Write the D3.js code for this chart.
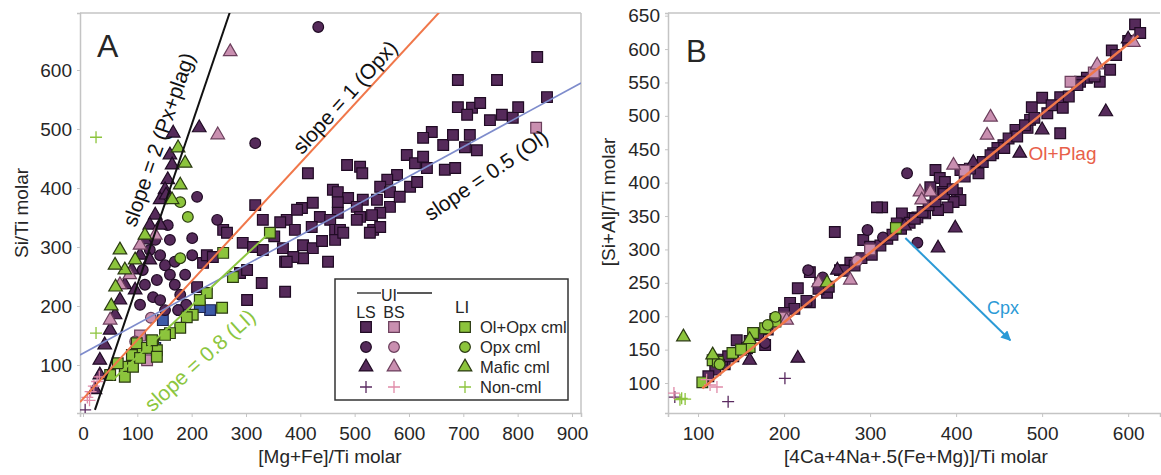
<!DOCTYPE html>
<html><head><meta charset="utf-8">
<script src="https://cdn.jsdelivr.net/npm/d3@7"></script>
<style>
body{margin:0;background:#fff}
text{font-family:"Liberation Sans",Arial,sans-serif;fill:#262626}
</style>
</head><body>
<svg id="c" width="1161" height="475"></svg>
<script>
// ---------------- Panel A data ([Mg+Fe]/Ti , Si/Ti) ----------------
const aTicksX = [0,100,200,300,400,500,600,700,800,900];
const aTicksY = [100,200,300,400,500,600];
const aLS_sq = [[836,622],[690,583],[762,583],[854,554],[690,537],[716,536],[731,544],[707,524],[749,515],[771,524],[791,519],[801,537],
[642,495],[626,485],[663,473],[681,490],[712,490],[725,464],[703,469],[666,431],[685,434],[596,456],[611,442],[626,453],[633,434],
[578,422],[560,414],[547,402],[565,393],[602,402],[615,410],[486,439],[510,436],[514,425],[414,425],[460,397],[469,393],[488,383],
[541,380],[565,368],[547,358],[583,385],[515,380],[403,366],[423,375],[436,351],[469,376],[469,358],[504,368],[510,351],[532,354],
[375,346],[390,329],[421,334],[455,346],[464,329],[473,329],[534,329],[547,334],[504,346],[405,303],[423,298],[372,275],[405,281],
[451,275],[464,312],[479,324],[528,324],[372,224],[294,307],[313,300],[331,295],[368,298],[387,283],[375,275],[289,256],[302,261],
[329,239],[302,210],[221,273],[228,286],[258,329],[239,283],[210,232],[317,371],[265,324],[331,346],[363,342],[394,363],[352,318],[440,310]];
const aLS_ci = [[433,673],[317,476],[210,385],[247,346],[201,315],[129,215],[136,244],[110,261],[123,295],[142,286],[151,269],[160,253],
[169,236],[179,219],[142,210],[114,236],[188,253],[169,275],[133,312],[160,312],[105,202],[151,193],[190,202],[175,193],[156,337],[201,286]];
const aLS_tri = [[214,502],[166,493],[160,456],[164,439],[156,414],[151,397],[142,380],[133,354],[123,337],[114,312],[105,286],[90,261],
[77,236],[68,210],[59,185],[50,159],[40,134],[31,108],[31,83],[22,58],[153,388],[142,337],[123,278],[96,227]];
const aLS_cr = [[4,24]];
const aBS_sq = [[834,502],[118,108],[105,150]];
const aBS_ci = [[125,180],[96,140]];
const aBS_tri = [[248,490],[271,631],[105,303],[86,253],[68,236],[133,320],[50,176]];
const aBS_cr = [[8,45],[14,55],[20,64],[26,72],[12,40],[30,80]];
const aLI_sq = [[258,290],[276,249],[228,222],[202,185],[215,210],[191,181],[179,163],[160,154],[256,197],[129,137],[136,125],[110,129],
[99,137],[90,117],[77,97],[77,80],[64,103],[92,97],[105,112],[118,129],[136,114],[151,151],[127,142],[50,83],[344,324]];
const aLI_ci = [[193,351],[179,376],[179,281]];
const aLI_tri = [[188,442],[175,468],[179,405],[164,380],[114,320],[96,278],[77,261],[60,232],[52,200],[68,295],[59,269]];
const aLI_cr = [[24,486],[24,154]];
const aBlue_sq = [[147,176],[182,193],[234,193],[215,198],[133,129]];

// ---------------- Panel B data ([4Ca+4Na+.5(Fe+Mg)]/Ti , [Si+Al]/Ti) ----------------
const bTicksX = [100,200,300,400,500,600];
const bTicksY = [100,150,200,250,300,350,400,450,500,550,600,650];
const bLS_sq = [[608,637],[614,624],[581,598],[579,569],[567,551],[552,557],[544,551],[521,528],[524,512],[500,527],[488,513],[506,504],
[521,474],[469,479],[483,482],[486,494],[455,456],[448,452],[443,444],[424,426],[426,414],[405,419],[376,419],[381,407],[387,401],
[370,393],[384,386],[401,384],[405,374],[397,371],[390,363],[379,359],[364,354],[355,348],[344,347],[337,354],[314,363],[331,339],
[308,363],[259,326],[292,314],[300,304],[277,280],[265,269],[230,266],[216,242],[207,220],[230,221],[250,235],[242,250],[145,164],
[157,152],[178,157],[270,268],[282,276],[290,287],[302,292],[312,306],[320,316],[326,322],[336,331],[346,340],[352,346],[361,356],
[368,366],[376,372],[386,383],[396,390],[410,409],[416,421],[431,431],[440,441],[456,452],[461,466],[471,469],[480,486],[491,497],
[511,516],[531,529],[541,546],[561,559],[586,591],[600,612],[252,244],[240,241],[226,223],[212,211],[200,205],[190,196],[181,180],
[170,172],[150,150],[141,140],[131,128],[120,120],[160,163],[128,135],[135,140],[112,110]];
const bLS_ci = [[343,414],[297,329],[228,269],[355,310],[178,160],[125,131],[315,318],[245,258]];
const bLS_tri = [[574,506],[500,479],[474,444],[399,332],[216,137],[262,269],[160,134],[379,302],[600,615],[340,335],[420,430]];
const bLS_cr = [[135,72],[201,107],[73,79]];
const bBS_sq = [[533,551],[410,418],[300,300],[200,198],[560,565]];
const bBS_ci = [[190,190],[285,283]];
const bBS_tri = [[564,576],[440,498],[436,471],[397,426],[358,386],[370,386],[360,374],[606,610],[277,254],[240,250],[203,194]];
const bBS_cr = [[114,97],[122,94],[72,85],[110,105]];
const bLI_sq = [[105,101],[117,134],[123,132],[164,175],[178,182],[160,154],[140,145],[150,150],[330,332],[190,192]];
const bLI_ci = [[190,199],[181,187],[125,128]];
const bLI_tri = [[83,169],[117,142],[250,250],[160,165]];
const bLI_cr = [[79,75],[81,77],[85,76]];

// reference lines (data coordinates)
const aLines = [
  {name:"slope 2",   pts:[[22,24],[270,697]],   color:"#111111", w:2},
  {name:"slope 1",   pts:[[-5.5,37],[660,702]], color:"#f0774a", w:2},
  {name:"slope 0.5", pts:[[-5.5,117],[916.6,578]], color:"#7e8ccc", w:1.6},
  {name:"slope 0.8", pts:[[55,75],[350,330]],   color:"#8cc63f", w:2}
];
const aLabels = [
  {t:"slope = 2 (Px+plag)", x:139, y:482, rot:-71, color:"#111", size:21},
  {t:"slope = 1 (Opx)",     x:482, y:554, rot:-48, color:"#111", size:21},
  {t:"slope = 0.5 (Ol)",    x:742, y:422, rot:-34, color:"#111", size:21},
  {t:"slope = 0.8 (LI)",    x:215, y:108, rot:-42, color:"#8cc63f", size:21}
];
const bLine = [[105,92],[612,620]];
const bArrow = [[341,317],[463,164]];

// ---------------- styles ----------------
const ST = {
  LS:{fill:"#552a5a", stroke:"#200b24"},
  BS:{fill:"#c98fb0", stroke:"#6b3f5c"},
  LI:{fill:"#8cc43c", stroke:"#2b3a12"},
  BL:{fill:"#3d5aa8", stroke:"#1c2450"}
};
const crossColor = {LS:"#5a2a60", BS:"#e08aa8", LI:"#8cc43c"};

const svg = d3.select("#c");
const xA = d3.scaleLinear().domain([-5.5,916.6]).range([80,581]);
const yA = d3.scaleLinear().domain([18.6,696.6]).range([413,13]);
const xB = d3.scaleLinear().domain([65.1,637]).range([668,1160]);
const yB = d3.scaleLinear().domain([55.1,654]).range([413,13]);

const defs = svg.append("defs");
defs.append("clipPath").attr("id","clipA").append("rect").attr("x",80).attr("y",13).attr("width",501).attr("height",400);
defs.append("clipPath").attr("id","clipB").append("rect").attr("x",668).attr("y",13).attr("width",493).attr("height",400);
defs.append("marker").attr("id","arr").attr("viewBox","0 0 10 10").attr("refX",9).attr("refY",5)
  .attr("markerWidth",5).attr("markerHeight",5).attr("orient","auto")
  .append("path").attr("d","M0,0L10,5L0,10Z").attr("fill","#2b9ad6");

function axes(x,y,ticksX,ticksY,box){
  const gx = svg.append("g").attr("transform",`translate(0,${y.range()[0]})`)
    .call(d3.axisBottom(x).tickValues(ticksX).tickSize(4).tickPadding(10).tickFormat(d3.format("d")));
  const gy = svg.append("g").attr("transform",`translate(${x.range()[0]},0)`)
    .call(d3.axisLeft(y).tickValues(ticksY).tickSize(3).tickPadding(5).tickFormat(d3.format("d")));
  [gx,gy].forEach(g=>{
    g.select(".domain").attr("stroke","#c4c4c4").attr("stroke-width",1.5);
    g.selectAll(".tick line").attr("stroke","#c4c4c4");
    g.selectAll(".tick text").attr("font-size",19).attr("fill","#2a2a2a")
      .style("font-family","'Liberation Sans',Arial,sans-serif");
  });
  svg.append("line").attr("x1",x.range()[0]).attr("x2",x.range()[1]).attr("y1",y.range()[1]).attr("y2",y.range()[1])
    .attr("stroke","#c4c4c4").attr("stroke-width",1.5);
  if(box) svg.append("line").attr("x1",x.range()[1]).attr("x2",x.range()[1]).attr("y1",y.range()[1]).attr("y2",y.range()[0])
    .attr("stroke","#c4c4c4").attr("stroke-width",1.5);
}
axes(xA,yA,aTicksX,aTicksY,true);
axes(xB,yB,bTicksX,bTicksY,false);

function pts(g,x,y,data,shape,group){
  if(shape==="cross"){
    g.selectAll(null).data(data).enter().append("path")
      .attr("transform",d=>`translate(${x(d[0])},${y(d[1])})`)
      .attr("d","M-6,0H6M0,-6V6").attr("stroke",crossColor[group]).attr("stroke-width",1.3).attr("fill","none");
    return;
  }
  const t = shape==="sq"?d3.symbolSquare:shape==="ci"?d3.symbolCircle:d3.symbolTriangle;
  const s = shape==="sq"?115:shape==="ci"?90:80;
  g.selectAll(null).data(data).enter().append("path")
    .attr("transform",d=>`translate(${x(d[0])},${y(d[1])})`)
    .attr("d",d3.symbol().type(t).size(s)())
    .attr("fill",ST[group].fill).attr("stroke",ST[group].stroke).attr("stroke-width",1.2);
}

// Panel A points
const gA = svg.append("g").attr("clip-path","url(#clipA)");
pts(gA,xA,yA,aLS_sq,"sq","LS");
pts(gA,xA,yA,aBlue_sq,"sq","BL");
pts(gA,xA,yA,aLS_ci,"ci","LS");
pts(gA,xA,yA,aLS_tri,"tri","LS");
pts(gA,xA,yA,aBS_sq,"sq","BS");
pts(gA,xA,yA,aBS_ci,"ci","BS");
pts(gA,xA,yA,aBS_tri,"tri","BS");
pts(gA,xA,yA,aLI_sq,"sq","LI");
pts(gA,xA,yA,aLI_ci,"ci","LI");
pts(gA,xA,yA,aLI_tri,"tri","LI");
pts(gA,xA,yA,aLS_cr,"cross","LS");
pts(gA,xA,yA,aBS_cr,"cross","BS");
pts(gA,xA,yA,aLI_cr,"cross","LI");
const line = (x,y)=>d3.line().x(d=>x(d[0])).y(d=>y(d[1]));
aLines.forEach(l=>{
  gA.append("path").attr("d",line(xA,yA)(l.pts)).attr("stroke",l.color).attr("stroke-width",l.w).attr("fill","none");
});
aLabels.forEach(l=>{
  svg.append("text").attr("transform",`translate(${xA(l.x)},${yA(l.y)}) rotate(${l.rot})`)
    .attr("text-anchor","middle").attr("dy","0.35em").attr("font-size",l.size).style("fill",l.color).text(l.t);
});

// Panel B points
const gB = svg.append("g").attr("clip-path","url(#clipB)");
pts(gB,xB,yB,bLS_sq,"sq","LS");
pts(gB,xB,yB,bLS_ci,"ci","LS");
pts(gB,xB,yB,bLS_tri,"tri","LS");
pts(gB,xB,yB,bBS_sq,"sq","BS");
pts(gB,xB,yB,bBS_ci,"ci","BS");
pts(gB,xB,yB,bBS_tri,"tri","BS");
pts(gB,xB,yB,bLI_sq,"sq","LI");
pts(gB,xB,yB,bLI_ci,"ci","LI");
pts(gB,xB,yB,bLI_tri,"tri","LI");
pts(gB,xB,yB,bLS_cr,"cross","LS");
pts(gB,xB,yB,bBS_cr,"cross","BS");
pts(gB,xB,yB,bLI_cr,"cross","LI");
gB.append("path").attr("d",line(xB,yB)(bLine)).attr("stroke","#f0774a").attr("stroke-width",2.5).attr("fill","none");
svg.append("path").attr("d",line(xB,yB)(bArrow)).attr("stroke","#2b9ad6").attr("stroke-width",2).attr("fill","none")
  .attr("marker-end","url(#arr)");
svg.append("text").attr("x",xB(484)).attr("y",yB(434)).attr("font-size",19).style("fill","#e8604a").text("Ol+Plag");
svg.append("text").attr("x",xB(436)).attr("y",yB(203)).attr("font-size",18).style("fill","#2b9ad6").text("Cpx");

// panel letters
svg.append("text").attr("x",97).attr("y",57).attr("font-size",32).text("A");
svg.append("text").attr("x",686).attr("y",62).attr("font-size",31).text("B");

// axis titles
svg.append("text").attr("x",330).attr("y",463).attr("text-anchor","middle").attr("font-size",19).text("[Mg+Fe]/Ti molar");
svg.append("text").attr("x",916).attr("y",463).attr("text-anchor","middle").attr("font-size",19).text("[4Ca+4Na+.5(Fe+Mg)]/Ti molar");
svg.append("text").attr("transform","translate(21,213) rotate(-90)").attr("dy","0.35em").attr("text-anchor","middle").attr("font-size",19).text("Si/Ti molar");
svg.append("text").attr("transform","translate(608,202) rotate(-90)").attr("dy","0.35em").attr("text-anchor","middle").attr("font-size",19).text("[Si+Al]/Ti molar");

// legend
const lg = svg.append("g");
lg.append("rect").attr("x",335).attr("y",279).attr("width",233).attr("height",121).attr("fill","#fff").attr("stroke","#333").attr("stroke-width",1.5);
lg.append("line").attr("x1",357).attr("x2",381).attr("y1",293).attr("y2",293).attr("stroke","#222").attr("stroke-width",1.3);
lg.append("line").attr("x1",397).attr("x2",432).attr("y1",293).attr("y2",293).attr("stroke","#222").attr("stroke-width",1.3);
lg.append("text").attr("x",389).attr("y",301).attr("text-anchor","middle").attr("font-size",16).text("UI");
lg.append("text").attr("x",366).attr("y",318).attr("text-anchor","middle").attr("font-size",16).text("LS");
lg.append("text").attr("x",394).attr("y",318).attr("text-anchor","middle").attr("font-size",16).text("BS");
lg.append("text").attr("x",455).attr("y",313).attr("font-size",17).text("LI");
const legRows = [{shape:"sq",label:"Ol+Opx cml"},{shape:"ci",label:"Opx cml"},{shape:"tri",label:"Mafic cml"},{shape:"cross",label:"Non-cml"}];
const legY = [327,347,367,387];
legRows.forEach((r,i)=>{
  const y0 = legY[i];
  [["LS",366],["BS",394],["LI",465]].forEach(([grp,x0])=>{
    const ix = d3.scaleLinear().domain([0,1]).range([x0,x0+1]);
    const iy = d3.scaleLinear().domain([0,1]).range([y0,y0+1]);
    pts(lg,ix,iy,[[0,0]],r.shape,grp);
  });
  lg.append("text").attr("x",480).attr("y",y0+6).attr("font-size",16.5).text(r.label);
});
</script>
</body></html>
